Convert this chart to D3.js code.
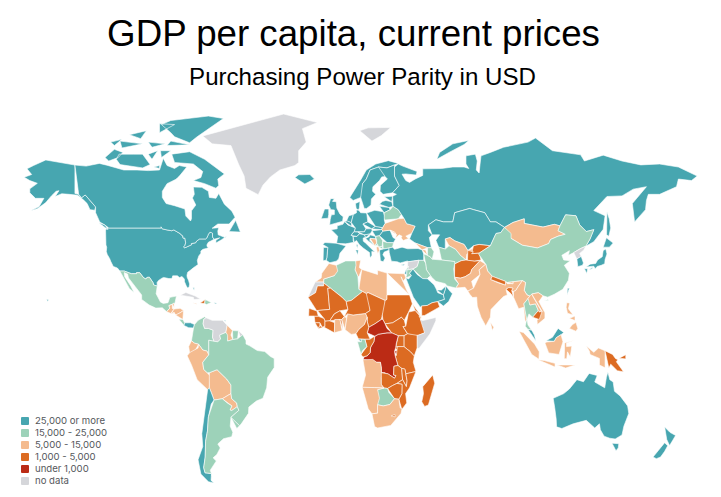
<!DOCTYPE html>
<html>
<head>
<meta charset="utf-8">
<script src="https://d3js.org/d3.v7.min.js"></script>
<style>
  body { margin: 0; background: #fff; }
  text { font-family: "Liberation Sans", Arial, sans-serif; }
  .legend text { font-family: Inter, "Open Sans", sans-serif; font-size: 9.6px; fill: #55585c; }
</style>
</head>
<body>
<svg id="map" width="721" height="497"></svg>
<script>
// GDP bands, in legend order
var bandLabels = ["25,000 or more", "15,000 - 25,000", "5,000 - 15,000", "1,000 - 5,000", "under 1,000", "no data"];
var bandColors = ["#47a6b0", "#9dd2b9", "#f4bb8f", "#dc6b22", "#bb2b15", "#d5d6da"];

// calibration: longitude is linear, latitude is not quite Miller
var lonKnots = [-180, 180];
var lonPixels = [1.6, 678.4];
var latKnots = [83.6, 77.7, 71, 66, 49, 37.3, 25.1, 0, -10.7, -34.8, -39.1, -55.9];
var latPixels = [114, 138, 161, 176, 228, 260, 288, 344, 372, 428, 439, 483];

// each row: name, band index, then rings as "lon lat lon lat ..."
var northAmerica = [
  ["USA", 0, "-124.7 48.4 -123 49 -95.2 49 -95.2 49.4 -94.6 48.7 -92 48.3 -89.5 48 -88.4 48.3 -84.9 46.9 -84.5 46.5 -83.6 46.1 -83.5 45.3 -82.5 45.3 -82.1 43.6 -82.5 42.6 -83.1 42.1 -82.7 41.7 -78.9 42.9 -79.1 43.3 -76.8 43.6 -76.3 44.2 -74.7 45 -71.5 45 -70.8 45.4 -70.3 46.2 -70 46.7 -69.2 47.45 -68.3 47.3 -67.8 47.1 -67.8 45.7 -67 44.9 -68.5 44.3 -70 43.8 -70.7 43 -70.8 42.3 -70 41.8 -71.2 41.5 -72.9 41.2 -74 40.6 -74 39.8 -75.1 38.8 -75.9 37.1 -75.5 35.3 -76.6 34.7 -78 33.9 -79.3 33 -81 32 -81.4 30.7 -81.3 29.8 -80.5 28.3 -80 26.8 -80.3 25.4 -81.1 25.1 -81.8 26.1 -82.7 27.8 -82.8 29 -84 30.1 -85.4 29.7 -86.5 30.4 -89 30.4 -89.4 29.2 -91 29.2 -93.8 29.7 -94.7 29.4 -96.5 28.4 -97.3 27.5 -97.2 25.95 -99.1 26.4 -99.5 27.5 -101.4 29.8 -102.7 29.7 -103.2 29 -104.5 29.6 -106.5 31.75 -108.2 31.8 -108.2 31.33 -111 31.33 -114.8 32.5 -117.1 32.5 -118.4 33.8 -120.6 34.5 -121.9 36.6 -122.5 37.8 -123.8 39.3 -124.3 40.4 -124.1 42 -124.5 42.8 -124 46.2",
    "-141 69.65 -141 60.3 -139 60 -137.5 58.9 -135.5 59.8 -133.5 58.4 -130 55.9 -130.5 54.8 -133 55 -134.5 57 -136.5 58.2 -139.5 59.7 -144 60 -148 60.2 -151.5 59.3 -149.5 61.2 -151 61 -153.5 59.5 -156.5 57.3 -161 55.3 -164.5 54.6 -160 56 -157.5 58.7 -162 58.7 -165 60.5 -165 61.8 -161 63.6 -165 64.5 -168 65.6 -164 66.5 -166.5 68.4 -163 69.5 -156.5 71.3 -152 70.8",
    "-156 20.2 -155 19.7 -155.6 19 -156 19.7", "-160 22.2 -159.4 22.2 -159.5 21.9", "-158.2 21.7 -157.7 21.5 -158 21.3", "-154.5 58 -152.3 58.2 -153.5 57"],
  ["Canada", 0, "-141 69.65 -135 69.3 -128 70.2 -124 69.6 -115 68 -108 68 -102 67.8 -96 68 -94 71.8 -92 69.5 -88 68.5 -85.5 69.5 -81.5 69 -85 66.3 -87 65 -92 63.5 -94.5 61 -94.5 59 -92.5 57 -88 56.3 -82.5 55.2 -82 52.9 -79.5 51.3 -79 52 -79 54.6 -76.7 56.5 -78.5 58.8 -77.5 60 -78 62.4 -73.5 62.3 -70 61 -69.5 59 -66 58.7 -64.5 60.3 -61.5 56.8 -57.5 54.5 -55.8 52.5 -59 50.3 -65 50.3 -68 48.9 -64.5 49.1 -65 47.9 -64.8 46.5 -61 45.5 -60 46.2 -63 44.7 -66 43.5 -66 44.5 -64 45.4 -67 44.9 -67.8 45.7 -67.8 47.1 -68.3 47.3 -69.2 47.45 -70 46.7 -70.3 46.2 -70.8 45.4 -71.5 45 -74.7 45 -76.3 44.2 -76.8 43.6 -79.1 43.3 -78.9 42.9 -82.7 41.7 -83.1 42.1 -82.5 42.6 -82.1 43.6 -82.5 45.3 -83.5 45.3 -83.6 46.1 -84.5 46.5 -84.9 46.9 -88.4 48.3 -89.5 48 -92 48.3 -94.6 48.7 -95.2 49.4 -95.2 49 -123 49 -124.7 49.8 -127.8 51 -130 54 -130 55.9 -133.5 58.4 -135.5 59.8 -137.5 58.9 -139 60 -141 60.3",
    "-59 47.7 -55.5 51.5 -53 47.5 -56 46.9", "-128.3 50.7 -125 50 -123.4 48.4 -125.5 48.8",
    "-61.5 66.7 -65 65 -64.5 62.9 -66 62 -72 63.5 -78 64.5 -74 65.5 -73 67.5 -78 70 -88 70.5 -89.5 73 -80 73.7 -72 71.5 -67 69",
    "-105 73 -110 73 -117.5 73 -119 71.5 -117 69.8 -105 68.7 -101 69.8 -101 71.5", "-125 72 -123 71 -118 72 -115.5 73.5 -120 74.4 -124 74",
    "-62 82.5 -70 83.1 -90 82 -95 81 -90 79 -88 78 -80 76.3 -76 78 -65 81", "-80 75.7 -90 76.8 -92 75.5 -80 74.6",
    "-88 81 -96 81.2 -96 79 -88 78.5", "-105 76 -117 76.8 -116 74.8 -106 74.7", "-97 74 -102 73 -100 71.5 -96 72",
    "-80 64 -87 65 -86 63.5", "-103 79.5 -112 78.5 -106 77.5 -98 78.5", "-90 74 -95.5 74 -95 72 -90 72",
    "-116 77.3 -122 76.5 -120 75.5 -116 76.3", "-93 76 -102 76.5 -100 75 -93 74.8", "-96 69.5 -99 69 -96 68.5 -94.5 69"],
  ["Greenland", 5, "-73 78.2 -68 76 -58 75.5 -54 70 -51 66 -50 62 -43.5 59.9 -41 63 -37 65.7 -32 68 -24 69.5 -22 70.5 -22 74 -18 76.5 -20 80 -12 81.5 -30 83.6 -60 82"],
  ["Mexico", 1, "-117.1 32.5 -114.8 32.5 -111 31.33 -108.2 31.33 -108.2 31.8 -106.5 31.75 -104.5 29.6 -103.2 29 -102.7 29.7 -101.4 29.8 -99.5 27.5 -99.1 26.4 -97.2 25.95 -97.8 22.5 -95.5 18.8 -94 18.2 -91.5 18.5 -90.5 20.9 -87 21.5 -87.8 18.3 -89.1 17.9 -91 17.2 -90.5 16.1 -92.2 14.5 -94.5 16.2 -98 16.1 -101.5 17.5 -105.5 20 -105.5 22 -109 25.8 -112.5 29.5 -113 31.2 -114.8 31.8 -114.5 30 -111.3 26 -109.5 23.1 -112 24.8 -115 28"],
  ["Guatemala", 2, "-92.2 14.5 -90.5 16.1 -91 17.2 -89.2 17.8 -89.2 15.9 -88.2 15.7 -89.3 14.5 -90 13.7 -91.5 13.9"],
  ["Belize", 2, "-89.2 17.8 -88.3 18.4 -88.2 16.3 -89.2 15.9"],
  ["Honduras", 2, "-89.2 14.4 -88.2 15.7 -85 16 -83.2 15 -85 14 -87 13 -88.5 13.9"],
  ["El Salvador", 2, "-90 13.7 -89.3 14.4 -87.8 13.9 -87.8 13.2"],
  ["Nicaragua", 2, "-87.5 13 -85 14 -83.2 15 -83.6 11 -85.7 11.1"],
  ["Costa Rica", 1, "-85.7 11.1 -83.6 11 -82.6 9.5 -83 8.3 -85.7 10"],
  ["Panama", 0, "-83 8.3 -82.6 9.5 -79.5 9.5 -77.4 8.7 -77.9 7.2 -80.5 7.3 -81.5 7.8"],
  ["Cuba", 5, "-84.9 21.9 -82 23.1 -77 21.5 -74.2 20.2 -77.7 19.9 -78 20.9 -82 22.2"],
  ["Haiti", 3, "-74.4 18.4 -72 18.1 -71.7 19.9 -73.3 19.9"],
  ["Dominican Republic", 1, "-71.7 19.9 -72 18.1 -71 17.7 -68.4 18.6 -69.9 19.8"],
  ["Jamaica", 2, "-78.3 18.5 -76.3 18.2 -76.4 17.8 -77.8 17.9"],
  ["Puerto Rico", 0, "-67.2 18.5 -65.6 18.4 -66 17.9 -67.2 18"],
  ["Bahamas", 0, "-78.3 25.2 -77.5 25.2 -77.6 24.1 -78.2 24.3"],
  ["Trinidad", 0, "-61.7 10.8 -60.9 10.8 -61 10.1 -61.8 10.1"]
];

var southAmerica = [
  ["Colombia", 1, "-77.9 7.2 -77.4 8.7 -75.5 10.6 -72 12.2 -71.3 11.8 -72.5 11 -72.8 9 -72 7 -70 7 -67.5 6.2 -67.8 3 -67 1.2 -69.8 1.7 -69.8 -4.2 -70.8 -2.7 -73 -2.3 -75.2 -0.1 -77.5 0.4 -79 1.5 -77.4 4"],
  ["Venezuela", 5, "-71.3 11.8 -72.5 11 -72.8 9 -72 7 -70 7 -67.5 6.2 -67.8 3 -67 1.2 -65 1 -63.5 2.2 -64 4 -60.7 5.2 -60 8.4 -62.5 10.6 -68 10.6 -70 12"],
  ["Guyana", 2, "-60.7 5.2 -60 8.4 -57.2 6 -58 4 -57 2 -59.8 1.3 -59.8 4"],
  ["Suriname", 1, "-57.2 6 -54 5.9 -54.5 2.3 -57 2 -58 4"],
  ["French Guiana", 5, "-54 5.9 -51.7 4.2 -52.8 2.2 -54.5 2.3"],
  ["Ecuador", 2, "-75.2 -0.1 -77.5 0.4 -79 1.5 -80.5 -1 -80 -3.3 -79 -5 -75.5 -1.5"],
  ["Peru", 2, "-80 -3.3 -81.3 -4.5 -79 -8 -76 -14 -70.4 -18.3 -69.5 -17.5 -69 -12.5 -70.6 -11 -72.5 -9.7 -73 -7 -70 -4.3 -69.8 -4.2 -70.8 -2.7 -73 -2.3 -75.2 -0.1 -75.5 -1.5 -79 -5"],
  ["Bolivia", 2, "-69.5 -11 -65.4 -9.8 -60.3 -13.7 -58 -16.3 -58 -20 -62.6 -22.2 -67 -22.8 -68.5 -19.5 -69.5 -17.5 -69 -12.5"],
  ["Paraguay", 2, "-62.6 -22.2 -58 -20 -57.6 -22.2 -55 -24 -54.6 -25.6 -57.6 -27.3 -58.5 -27 -57.5 -25.3 -60 -24"],
  ["Chile", 0, "-70.4 -18.3 -69.5 -17.5 -68.5 -19.5 -67 -22.8 -68.5 -24.5 -70 -30 -70.5 -36 -71.5 -40 -71.7 -46 -72.5 -50 -71.8 -52 -68.4 -52.3 -68.6 -54.9 -67 -55.9 -70 -55.4 -74 -52.5 -75.5 -47 -73 -42 -73.5 -37 -71.5 -30"],
  ["Argentina", 1, "-67 -22.8 -62.6 -22.2 -60 -24 -57.5 -25.3 -58.5 -27 -57.6 -27.3 -54.6 -25.6 -53.8 -27.2 -58 -30.2 -58.4 -34 -57 -36.5 -57.6 -38.2 -62 -39 -65 -41 -63.7 -42.5 -65.5 -45 -67.5 -46.3 -65.8 -47.5 -69 -51 -68.4 -52.3 -71.8 -52 -72.5 -50 -71.7 -46 -71.5 -40 -70.5 -36 -70 -30 -68.5 -24.5",
    "-68.6 -52.7 -65.2 -54.7 -68.6 -54.9"],
  ["Uruguay", 1, "-58 -30.2 -53.4 -33.8 -54.9 -35 -58.4 -34"],
  ["Brazil", 1, "-51.7 4.2 -50 1.5 -50 0 -48 -0.7 -44 -2.5 -40 -2.9 -37 -4.8 -35 -5.5 -35 -9 -38.5 -13 -39 -17.5 -41 -22 -44.5 -23.2 -48.5 -25.8 -48.7 -28.5 -52.5 -33 -53.4 -33.8 -58 -30.2 -53.8 -27.2 -54.6 -25.6 -55 -24 -57.6 -22.2 -58 -20 -58 -16.3 -60.3 -13.7 -65.4 -9.8 -69.5 -11 -70.6 -11 -72.5 -9.7 -73 -7 -70 -4.3 -69.8 -4.2 -69.8 1.7 -67 1.2 -65 1 -63.5 2.2 -64 4 -60.7 5.2 -59.8 4 -59.8 1.3 -57 2 -54.5 2.3 -52.8 2.2"],
  ["Falklands", 5, "-61 -51.8 -58 -51.5 -59 -52.3"]
];

var europe = [
  ["Iceland", 0, "-24 65.5 -22 66.4 -16 66.5 -13.6 65 -18.7 63.4 -22.7 63.9"],
  ["UK", 0, "-5.5 50 1.4 51.2 1.7 52.7 0 53.5 -1.7 55.5 -2 57.6 -4 57.7 -3 58.6 -5 58.6 -6 56.5 -4.9 55 -3 54.9 -3 53.4 -4.6 53.3 -5.2 51.8 -3 51.3"],
  ["Ireland", 0, "-10 52 -6.3 52.2 -6 53.5 -6 55.2 -8.2 55.2 -10 54"],
  ["Spain", 0, "-9.2 43 -8 43.7 -1.8 43.4 3.2 42.4 0 39.8 -0.7 37.7 -2 36.8 -5.4 36.1 -7.4 37.2 -7 38.2 -6.5 41.9 -8.8 41.9"],
  ["Portugal", 0, "-8.8 41.9 -6.5 41.9 -7 38.2 -7.4 37.2 -9 37 -9.5 38.7"],
  ["France", 0, "-1.8 43.4 -1.2 46 -4.7 48.4 -1.5 48.7 -1.5 49.7 1.5 50.2 2.5 51.1 4.2 50 6.2 49.5 8.2 49 7.6 47.6 6.9 47.3 6 46.3 7 45.9 7 44.2 7.5 43.8 3 43.2 3.2 42.4", "8.6 42.9 9.5 43 9.3 41.5 8.8 41.6"],
  ["Belgium", 0, "2.5 51.1 4 51.4 6 50.8 6.2 49.5 4.2 50"],
  ["Netherlands", 0, "3.5 51.4 4.7 53 7.1 53.4 6 50.8 4 51.4"],
  ["Germany", 0, "6 50.8 7.1 53.4 8.8 54 8.7 54.9 10 54.8 11 54 14.2 53.9 14.8 51 12.2 50.3 13.8 48.7 13 47.6 7.6 47.6 8.2 49 6.2 49.5"],
  ["Denmark", 0, "8.6 55.4 8.2 57 10.6 57.7 10.3 55.5 9.7 54.9 8.7 54.9", "11 55.7 12.5 56 12 54.8"],
  ["Switzerland", 0, "6 46.3 6.9 47.3 7.6 47.6 9.6 47.5 10.4 46.9 9 45.9 7 45.9"],
  ["Austria", 0, "9.6 47.5 13 47.6 13.8 48.7 16.9 48.7 17.1 48 16 46.8 13 46.5 10.4 46.9"],
  ["Italy", 0, "7 45.9 9 45.9 10.4 46.9 13 46.5 13.7 45.6 12.3 45.3 12.4 44.2 13.6 43.5 16 41.9 18.5 40.2 16.9 40.4 17 39 16 38 15.7 40 12.3 41.7 10.2 43 8.8 44.4 7.5 43.8 7 44.2", "12.5 38 15.6 38.2 15 36.7", "8.3 41 9.7 41 9.5 39.1 8.5 39"],
  ["Poland", 0, "14.2 53.9 18.5 54.8 23 54.3 24 52.5 23.6 51.6 24 50.5 22.7 49.1 19 49.4 14.8 51"],
  ["Czechia", 0, "12.2 50.3 14.8 51 18.8 49.5 16.9 48.7 13.8 48.7"],
  ["Slovakia", 0, "16.9 48.7 18.8 49.5 22.5 49.1 22.1 48.4 17.1 48"],
  ["Hungary", 0, "17.1 48 22.1 48.4 22.9 47.9 21 46.2 18.9 45.9 16 46.8"],
  ["Slovenia", 0, "13.7 45.5 13 46.5 16 46.8 15.5 45.8"],
  ["Croatia", 0, "13.6 45.2 15.5 45.8 16 46.5 18.9 45.9 19 45 16 45.2 15.8 44.5 18.5 42.5 15.2 44.2 14.5 45.2"],
  ["Bosnia", 2, "16 45.2 19 45 19.5 43.6 18.5 42.5 15.8 44.5"],
  ["Serbia", 1, "18.9 45.9 21 46.2 22.7 44.3 22.4 42.3 20.6 42 19.5 43.3 19.5 44.5 19 45"],
  ["Montenegro", 1, "18.5 42.5 19.5 43.3 20.3 42.8 19.3 41.9"],
  ["Albania", 2, "19.3 41.9 20.5 42.3 21 40.8 20 39.7 19.4 40.4"],
  ["Macedonia", 1, "20.6 42 22.4 42.3 23 41.3 21 40.9"],
  ["Bulgaria", 1, "22.7 44.2 25 43.7 28.5 43.6 27.9 42 26.3 41.7 23 41.3 22.4 42.3"],
  ["Romania", 0, "21 46.2 22.9 47.9 26.6 48.2 28.2 45.5 29.6 45 28.5 43.7 25 43.7 22.7 44.3"],
  ["Greece", 0, "21 40.9 23 41.3 26.3 41.7 26 40.9 23.5 40.2 22.8 39.2 24 38 23 36.5 21.5 37 20 39.7", "23.6 35.5 26.2 35.2 24.7 35"],
  ["Norway", 0, "5.2 59 7 58 11 59 12.5 61 12 63.5 14 65 16 68 20.5 69 25 68.7 29 69.7 31 70.2 25.7 71.1 19 70 14 68 11 64.7 5 62"],
  ["Sweden", 0, "11 59 12.9 55.4 14.2 55.4 16.5 56.5 16.7 58.5 19 60 17.3 61 17.5 62.5 21 64.5 22.2 65.7 24 65.8 23.5 67.8 20.5 69 16 68 14 65 12 63.5 12.5 61"],
  ["Finland", 0, "24 65.8 25.2 65 21.5 63 21.3 61 22.9 60 28 60.5 31.5 62.9 29 66 29 69 29 69.7 25 68.7 20.5 69 23.5 67.8"],
  ["Estonia", 0, "23.5 59.2 28 59.4 27.5 57.6 24.4 58"],
  ["Latvia", 0, "21 56.8 22.5 57.7 24.4 58 27.5 57.6 28.2 56.1 26 55.7 21 56.1"],
  ["Lithuania", 0, "21 56.1 26 55.7 26.7 55 23.5 54 21 55.2"],
  ["Belarus", 1, "23.5 54 26.7 55 28.2 56.1 31 55 32.7 53.4 31 52 23.6 51.6 24 52.5"],
  ["Ukraine", 2, "24 50.5 22.7 49.1 22.1 48.4 22.9 47.9 26.6 48.2 29 47.5 30 46.5 29.6 45.3 31.5 46.5 33 46 32.5 45.4 33.6 44.4 36.5 45.2 35 46 38.2 47.1 40 49.6 38 50 35.5 50.4 34 52.2 31 52 23.6 51.6"],
  ["Moldova", 2, "26.6 48.2 29 47.5 30 46.5 28.2 45.5"],
  ["Cyprus", 0, "32.3 35.1 34.5 35.6 33.9 34.9 32.8 34.6"]
];

var russiaAsia = [
  ["Russia", 0, "28 59.4 30 60 28 60.5 31.5 62.9 29 66 29 69 31 70 33 69.4 41 67.5 40.5 66.3 35 66.7 33 66.6 35 64.5 37 63.9 40 65 44 66.2 44 68.4 54 68.5 60 69 66 69 68.5 68.5 67 70 67 72.5 72 73 73 71 72.5 68 74 67 74.5 70 75 72.5 80 73.5 87 75 100 76.5 104 77.7 113 74 128 72.8 130 71 140 72.7 150 71 160 69.7 170 70 180 69 190 66 187 64.5 180 65 179 62.5 170 60 164 60 163 58 162.5 55 156.7 51 155.5 57 163 62.5 156 61.7 150 59.5 142 59.3 135 54.7 141 53 140 48.5 135 44 130.7 42.3 131.3 43 133 45 135 48.4 131 47.7 127.5 50 125.5 53 120 53.3 117 49.7 114 50.2 108 49.3 98 50.5 98 52 92 50.8 87.5 49.2 83 51 80 51 77 54 71 55 69 55.4 61 54 60 51 55 51 51 51.7 47 50 47 48 49 46.5 47.5 45.5 48.6 41.8 46.6 41.8 40 43.5 37 45 38.2 47.1 40 49.6 38 50 35.5 50.4 34 52.2 32.7 53.4 31 55 28.2 56.1 27.5 57.6",
    "142 54.3 143.2 52 144 49 143 46 141.8 46.5 142 50", "51.5 71.5 53 73.5 60 76 68.5 77 66 75.8 58 73.5 56 71", "95 79.5 105 79 100 81", "137 75.5 150 75 142 73.8", "178 71.5 182 71.2 180 70.8", "45 80.6 65 81 50 80"],
  ["Svalbard", 5, "10.5 79.5 15 80.2 27 80.3 22 78.3 17 76.8 13.5 78"],
  ["Kazakhstan", 0, "47 50 51 51.7 55 51 60 51 61 54 69 55.4 71 55 77 54 80 51 83 51 87.5 49.2 85.5 47.3 83 47 80 42.5 74 43 71 42.5 68 40.8 66 43 61 44.3 58.5 45.5 56 45 56 41.3 52.5 42 51 44.5 53 46.5 49 46.5 47 48"],
  ["Uzbekistan", 2, "56 45 58.5 45.5 61 44.3 66 43 68 40.8 71 41.5 70.5 40.7 67.5 39.5 67 37.3 64 39 61.5 41.2 58 42.5 56 41.3"],
  ["Turkmenistan", 1, "52.5 42 56 41.3 58 42.5 61.5 41.2 64 39 67 37.3 64.5 37 61 35.6 61 36.6 54 37.3 53.5 40"],
  ["Kyrgyzstan", 3, "71 42.5 74 43 80 42.5 74 39.8 70 39.6 71 40.3"],
  ["Tajikistan", 3, "68 40.8 71 40.3 70 39.6 74 39.8 75 37.3 71.5 36.8 67.8 37.1 67.5 39.5"],
  ["Afghanistan", 3, "61 35.6 64.5 37 67 37.3 71.5 36.8 74.5 37 71 34 70 33 69.5 31.5 66.5 30 64 29.4 60.9 29.8 60.5 33.5"],
  ["Pakistan", 2, "60.9 29.8 64 29.4 66.5 30 69.5 31.5 70 33 71 34 74.5 37 77.5 35.5 74 33 74.5 31 70 28 71 25 68 23.7 66.5 25.4 61.6 25.1 63 27 61 29"],
  ["Iran", 1, "44.5 39.5 46.5 39 48 38.5 49 37.6 54 37.3 61 36.6 61 35.6 60.5 33.5 60.9 29.8 61 29 63 27 61.6 25.1 57 26 56 27 51 28 48.5 30 46 33 45.5 36 44.5 37.5"],
  ["Iraq", 1, "38.8 33.4 41 34.5 42 37.2 44.5 37.2 45.5 36 46 33 48.5 30 47.7 30.1 46.5 29.1 44 29.2 41 31"],
  ["Turkey", 0, "26.2 40 26 41.7 28 42 29 41.2 33 42 36 41.4 41.5 41.5 43.7 41 44.5 39.5 44.5 37.2 42 37.2 36 36.5 36 36.9 32 36 30.5 36.5 27.3 36.8 26.3 39"],
  ["Georgia", 2, "40 43.5 46.6 41.8 43.7 41 41.5 41.5"],
  ["Armenia", 2, "43.7 41 45.5 41 46.5 39 44.5 39.5"],
  ["Azerbaijan", 1, "46.6 41.8 48.6 41.8 50 40.3 49 37.6 48 38.5 46.5 39 45.5 41"],
  ["Syria", 5, "36 36.5 42 37.2 41 34.5 38.8 33.4 36 33 35.9 34.6"],
  ["Lebanon", 1, "35.1 33.1 36 33 36.5 34.6 35.9 34.6"],
  ["Israel", 0, "34.3 31.3 35.1 33.1 35.6 33 35.5 31 35 29.5"],
  ["Jordan", 1, "35 29.5 35.5 31 35.6 33 36 33 38.8 33.4 37 31.5 38 30.5 36.5 29"],
  ["Saudi Arabia", 0, "35 29.5 36.5 29 38 30.5 37 31.5 38.8 33.4 41 31 44 29.2 46.5 29.1 48 28 50 26.5 51.2 24.6 52 23 55 22 55.6 20 52 19 49 18.5 46.5 17.3 43.4 17 42.7 16.5 39 21 35 28"],
  ["Yemen", 3, "43.4 17 46.5 17.3 49 18.5 52 19 53 16.6 45 12.8 43.5 12.7 42.7 15.5"],
  ["Oman", 0, "52 19 55.6 20 55 22 56 24.5 56.3 26 58.6 23.6 59.8 22.5 57.8 19 55 17 53 16.6"],
  ["UAE", 0, "51.5 24.2 54 24.2 56.3 26 56 24.5 55 22 52 23"],
  ["Qatar", 0, "51 26 51.6 25 50.9 24.8"],
  ["Kuwait", 0, "46.5 29.1 47.7 30.1 48.4 28.6"],
  ["Mongolia", 2, "87.5 49.2 92 50.8 98 52 98 50.5 108 49.3 114 50.2 117 49.7 116 48 119.8 46.7 116 46 112 44.8 111 43.3 105 41.7 97 42.7 91 45.2 91 47"],
  ["China", 1, "73.7 39.5 74 39.8 80 42.5 83 47 85.5 47.3 87.5 49.2 91 47 91 45.2 97 42.7 105 41.7 111 43.3 112 44.8 116 46 119.8 46.7 116 48 117 49.7 120 53.3 125.5 53 127.5 50 131 47.7 135 48.4 133 45 131.3 43 130.7 42.3 128 41.5 124.3 40 121.5 39 122 40.7 118 39 119 37.3 122.5 37 119.3 35 122 31.5 121.5 28.5 118.5 24.5 114 22.3 110.5 21 108 21.6 105.5 23 102 22.4 101.7 21.2 99.5 22 98 24 98.7 27.5 97 28.3 92 27.8 89 27.5 88 28 81 30.2 78.5 32.5 77.5 35.5 75 37.3",
    "108.7 19.3 110.5 20 111 19.6 109.5 18.2"],
  ["Taiwan", 0, "121 25 122 25 120.8 22 120.1 23"],
  ["North Korea", 5, "124.3 40 128 41.5 130.7 42.3 129.7 41 127.5 39.7 128.3 38.6 126 37.7 125 38"],
  ["South Korea", 0, "126 37.7 128.3 38.6 129.5 36 129 35 126.5 34.4 126.5 36"],
  ["Japan", 0, "131 34.3 133 35.5 136 35.8 137 37.3 139.5 38.5 140 40.8 141.4 41.3 142 39.5 141 37.5 140.8 35.7 139 35 136.8 34.5 135.7 33.5 135 34.6 132.5 34", "140 42 141.7 45.4 145.3 43.5 143.3 42 141 42.5", "130 33.5 131.7 33.5 131.3 31.4 130.2 31.3", "132.5 33.2 134.6 34.2 134 33.4 133 32.8"],
  ["India", 2, "74.5 31 74 33 77.5 35.5 78.5 32.5 81 30.2 80.2 28.8 84 27.4 88 26.4 88 28 89 27 92 27 92 27.8 97 28.3 95 26 93.5 24 92.3 23.5 91.3 24 92 25 89.8 25.3 88.3 24.5 89 22 87 21.3 85 19.6 80.3 15.5 80 12 77.5 8.1 75 12 73 17 72.7 21 70.5 20.8 69 22.3 68 23.7 71 25 70 28"],
  ["Nepal", 3, "80.2 28.8 81 30.2 88 28 88 26.4 84 27.4"],
  ["Bhutan", 2, "89 27.5 92 27.8 92 26.9 89 26.8"],
  ["Bangladesh", 3, "88.3 24.5 89.8 25.3 92 25 91.3 24 92.3 21 91 22.5 89 22"],
  ["Sri Lanka", 2, "80 9.7 81.8 7.5 81 6 80 6.2"],
  ["Myanmar", 2, "92.3 21 92.3 23.5 93.5 24 95 26 97 28.3 98.7 27.5 98 24 99.5 22 101 21.5 100 20.4 97.8 18 98.5 15 99.5 11 98.5 10 97.7 16.5 95 15.8 94.3 18.5"],
  ["Thailand", 1, "97.8 18 100 20.4 101 19.5 101 17.5 104 18 105.5 15 102.5 12 100.5 13.5 99.5 11 100 8.5 102 6.2 100 6.5 98.5 8 99.3 11 98.5 15"],
  ["Laos", 2, "100 20.4 101 21.5 102 22.4 103 20.7 107 15 106 14.3 105.5 15 104 18 101 17.5 101 19.5"],
  ["Vietnam", 2, "102 22.4 105.5 23 108 21.6 105.8 19 109 14 109 11.5 105 8.7 104.8 10.5 106 13 107.5 14.7 103 20.7"],
  ["Cambodia", 3, "102.5 12 105.5 15 106 14.3 107.5 14.7 106 11 104.8 10.5"],
  ["Malaysia", 0, "100 6.5 102 6.2 103.4 4 104.2 1.4 101.3 2.8", "109.6 1.5 113 3 116 7 119 5.2 117.6 4.2 115 2.8 114 1.2 110 0.9"],
  ["Indonesia", 2, "95.3 5.6 97.5 5.2 103.5 0 106 -3 105.8 -5.8 102 -4 98.5 1.5", "105.3 -6 108.6 -6.3 114.4 -7.4 114.4 -8.8 106.5 -7.8", "109 0.5 110 0.9 114 1.2 115 2.8 117.6 4.2 118.6 1 116.5 -4 111 -3.4 109.2 -1", "119.5 0.5 125 1.8 120.5 0.4 120.5 -1 123.3 -0.8 122.5 -5 121 -3 120.6 -5.6 119.3 -5.6 118.8 -2.5", "115.5 -8 119 -8 125 -8 120 -9.2 116 -9.2", "123.6 -10.2 127.2 -8.2 125 -8.8", "128 -2.8 130.8 -3 128 -3.6", "127.3 1.8 128.8 0 128 -0.9", "131 -0.8 135 -3.2 137.5 -1.5 141 -2.6 141 -9.1 138 -8 138 -5.5 133 -4 132.7 -2.8 134 -2"],
  ["Philippines", 2, "120.3 16.5 120.6 18.5 122.2 18.4 121.5 15.8 124 13 121 13.8 120 14.8", "122 7 123.5 8.6 125.5 9.7 126.5 7 125.5 5.7 124 6.5", "122 11.5 125 12.5 125 10.5 123 9.5", "117.2 8.4 119.5 11.3 119.3 10"]
];

var africa = [
  ["Egypt", 2, "25 31.6 34.3 31.3 35 29.5 33.5 28 32.5 30 35.6 23.9 37 22 25 22"],
  ["Libya", 2, "11.6 33.2 15 32.3 20 31 20 32.8 25 31.6 25 20 24 19.5 15 23 14 22.6 10 24.5 10 30"],
  ["Tunisia", 2, "8.3 36.9 11 37.2 10.3 34 11.6 33.2 10 30 9.5 30.2 8 33 8.5 35"],
  ["Algeria", 1, "-2 35 3 36.9 8.3 36.9 8.5 35 8 33 9.5 30.2 10 24.5 12 23.5 6 19.5 3.3 19 1 21 -5 25 -8.7 27.3 -8.7 29 -3 30.5 -1.2 32.5"],
  ["Morocco", 2, "-5.9 35.8 -2 35 -1.2 32.5 -3 30.5 -8.7 29 -8.7 27.7 -13.2 27.7 -10 29.5 -9.7 31.5 -6.8 34"],
  ["Western Sahara", 5, "-13.2 27.7 -8.7 27.7 -8.7 26 -12 26 -13 23 -17 21 -16 23.7"],
  ["Mauritania", 3, "-17 21 -13 23 -12 26 -8.7 26 -8.7 27.3 -5 25 -6.5 25 -5.5 15.5 -12 15 -12.3 14.8 -16.5 16"],
  ["Mali", 3, "-12 15 -5.5 15.5 -6.5 25 -5 25 1 21 3.3 19 4.2 15.5 0 14.9 -3 13.5 -5.5 10.4 -8 10.2 -8.5 11.4 -11.5 12.4"],
  ["Senegal", 3, "-16.5 16 -12.3 14.8 -11.5 12.4 -16.7 12.4 -17.5 14.7"],
  ["Guinea-Bissau", 3, "-16.7 12.4 -13.7 12.4 -15 11"],
  ["Guinea", 3, "-13.7 12.4 -11.5 12.4 -8.5 11.4 -8 10.2 -8 8 -9.4 7.5 -10.7 9.5 -13.3 9.5 -15 11"],
  ["Sierra Leone", 3, "-13.3 9.5 -10.7 9.5 -10.7 8.3 -11.5 7 -13.3 8.2"],
  ["Liberia", 3, "-11.5 7 -10.7 8.3 -9.4 7.5 -8.4 7.5 -7.5 4.4"],
  ["Ivory Coast", 3, "-8.4 7.5 -8 8 -8 10.2 -5.5 10.4 -2.8 9.5 -3 5 -7.5 4.4"],
  ["Burkina Faso", 3, "-5.5 10.4 -3 13.5 0 14.9 2.3 12.3 0.9 11 -2.8 11"],
  ["Ghana", 2, "-2.8 11 0 11 1.1 6 -3 5 -2.8 9.5"],
  ["Togo", 3, "0 11 0.9 11 1.6 6.2 1.1 6"],
  ["Benin", 2, "0.9 11 2.4 12.2 3.6 11.7 2.7 6.4 1.6 6.2"],
  ["Nigeria", 2, "2.7 6.4 3.6 11.7 4 13.5 7 13 10 13.3 13.6 13.7 14.5 12 13 8.7 10 6.5 8.5 4.6 6 4.3 4.5 6.4"],
  ["Niger", 3, "4.2 15.5 3.3 19 6 19.5 12 23.5 14 22.6 15 23 15.5 20 16 15 13.6 13.7 10 13.3 7 13 4 13.5 2.4 12.2 2.3 12.3 0 14.9"],
  ["Chad", 3, "14 22.6 15 23 24 19.5 24 15.7 22.5 13 22 11 18.5 9 15.3 7.5 14.5 10 14.5 12 13.6 13.7 16 15 15.5 20"],
  ["Sudan", 3, "24 19.5 25 20 25 22 37 22 38.5 18 36.5 14.3 34.2 10.6 32.7 12 28 9.5 24 9 22.8 11 22.5 13 24 15.7"],
  ["South Sudan", 3, "24 9 28 9.5 32.7 12 34.2 10.6 35 8 33.5 7.8 35.9 4.6 34 3.7 31 3.7 27.5 5 25 7"],
  ["Eritrea", 3, "38.5 18 43 12.7 40 15 36.5 14.3"],
  ["Ethiopia", 3, "36.5 14.3 40 15 42.5 12.5 43 11.5 42.8 10.9 48 8 45 5 42 4 39.7 3.5 36 4.6 33.5 7.8 35 8 34.2 10.6"],
  ["Djibouti", 2, "42 12.6 43.3 12.2 43 11 42.4 11.2"],
  ["Somalia", 5, "42.8 10.9 44 10.5 51 11.9 51 10.4 47.8 4.5 42 -1.7 41 -1.5 41 3.9 42 4 45 5 48 8"],
  ["Kenya", 3, "41 3.9 41 -1.5 39.5 -4.6 37.5 -3 34 -1 34 3.7 35.9 4.6 39.7 3.5"],
  ["Uganda", 3, "31 3.7 34 3.7 34 -1 30.5 -1 29.6 -1.4 30 0.5"],
  ["Rwanda", 3, "29 -1.4 30.5 -1 30.8 -2.4 29 -2.8"],
  ["Burundi", 4, "29 -2.8 30.8 -2.4 30 -4.4 29.3 -4.4"],
  ["Tanzania", 3, "30.5 -1 34 -1 37.5 -3 39.5 -4.6 39 -7 40.4 -10.5 35 -11.5 34.5 -9.6 32.8 -9.3 30.8 -8.2 29.3 -4.4 30 -4.4 30.8 -2.4"],
  ["DR Congo", 4, "12.2 -6 13 -4.8 14.5 -4.5 16 -3.3 16.3 -1.2 18 1 18.5 3.5 20.5 4.4 25 5 27.5 5 31 3.7 30 0.5 29.6 -1.4 29 -2.8 29.3 -4.4 30.8 -8.2 28.7 -8.5 28.5 -12 29.8 -12.2 29 -13.4 25.5 -11.5 22 -11 22 -9.3 21.5 -7 19.5 -7 17.5 -5.9"],
  ["Central African Republic", 4, "14.5 5 15.3 7.5 18.5 9 22 11 22.8 11 24 9 25 7 27.5 5 25 5 20.5 4.4 18.5 3.5 16 2.2"],
  ["Congo", 3, "11.2 -4 12.2 -5 13 -4.8 14.5 -4.5 16 -3.3 16.3 -1.2 18 1 18.5 3.5 16 2.2 13.2 2.2 14.3 -1 12 -2.5"],
  ["Gabon", 1, "9.3 1 11.3 1 11.3 2.2 13.2 2.2 14.3 -1 12 -2.5 11.2 -4 8.8 -1"],
  ["Equatorial Guinea", 0, "9.5 2.2 11.3 2.2 11.3 1 9.5 1"],
  ["Cameroon", 3, "8.5 4.6 10 6.5 13 8.7 14.5 12 14.5 10 15.3 7.5 14.5 5 16 2.2 13.2 2.2 9.8 2.3 9.5 4"],
  ["Angola", 2, "12.2 -6 17.5 -5.9 19.5 -7 21.5 -7 22 -9.3 22 -11 24 -11 22 -13 22 -16 23.4 -17.6 18.4 -17.4 11.8 -17.3 13.6 -12 13.5 -9"],
  ["Zambia", 3, "22 -11 25.5 -11.5 29 -13.4 29.8 -12.2 28.5 -12 28.7 -8.5 30.8 -8.2 32.8 -9.3 33 -11 33.3 -14 30.3 -15.6 28 -16.5 25.3 -17.8 23.4 -17.6 22 -16 22 -13 24 -11"],
  ["Malawi", 3, "32.8 -9.3 34.5 -9.6 35 -11.5 35.7 -14.5 35.3 -17 33.3 -14 33 -11"],
  ["Mozambique", 3, "40.4 -10.5 35 -11.5 35.7 -14.5 35.3 -17 33.3 -14 30.3 -15.6 33 -16 32.9 -20 31.3 -22.4 32.9 -26.8 35.5 -24 34.9 -20 37 -17.5 40.7 -14.8"],
  ["Zimbabwe", 3, "25.3 -17.8 28 -16.5 30.3 -15.6 33 -16 32.9 -20 31.3 -22.4 29 -22.2 26 -19.5"],
  ["Botswana", 1, "20 -18.3 23.4 -17.6 25.3 -17.8 26 -19.5 29 -22.2 26.5 -24.7 23 -25.3 20 -24.8 21 -22"],
  ["Namibia", 2, "11.8 -17.3 18.4 -17.4 23.4 -17.6 20 -18.3 21 -22 20 -24.8 20 -28.4 17 -28.7 15 -26.5 14.4 -22"],
  ["South Africa", 2, "17 -28.7 20 -28.4 20 -24.8 23 -25.3 26.5 -24.7 29 -22.2 31.3 -22.4 32 -26 32.9 -26.8 32.5 -28.5 27 -33.7 25 -34 20 -34.8 18.4 -34.2 18 -32"],
  ["Lesotho", 3, "27.2 -29.6 29.2 -29 29.3 -30 28 -30.6"],
  ["Madagascar", 3, "49.3 -12 50.4 -15.5 47 -24.9 45 -25.5 43.5 -23.5 44.4 -20 44 -17 46.5 -15.5"]
];

var oceania = [
  ["Australia", 0, "113.4 -22 114.2 -26 115 -31 115.2 -34.3 118 -35 124 -33 131 -31.5 135.5 -34.8 138 -33 138.5 -35.5 140.5 -38 143.5 -38.8 146.4 -39.1 150 -37.5 151 -34 153.6 -28.6 153 -25.3 149 -21 146 -19 145.3 -15 143.5 -14 142.5 -10.7 141.7 -13 140.8 -17.5 135.5 -15 136.8 -12.2 132.5 -11.3 129.5 -14.9 126 -14 122 -18 119 -20 114 -21.8",
    "144.7 -40.7 148.3 -40.9 148 -42.5 146.8 -43.6 145.5 -42.8"],
  ["New Zealand", 0, "172.7 -34.4 175.5 -36.5 178.5 -37.7 177 -39.6 175.3 -41.6 173.8 -39.3 174.7 -37", "172.7 -40.5 174.3 -41.7 172.7 -43.8 170.5 -46 168.3 -46.6 166.5 -46 170 -43"],
  ["Papua New Guinea", 3, "141 -2.6 145 -4 146.5 -5.5 147.8 -6 147 -6.8 150.8 -10.6 147.5 -10.2 144 -7.7 143 -9.2 141 -9.1", "148.5 -5.4 152 -4.1 152 -5.7 149 -6.4", "150.8 -2.6 153 -4.5 152.8 -4.7"],
  ["Solomon Islands", 2, "157 -7 160 -8.5 159.8 -8.8", "159.8 -9.3 161 -9.6 160 -9.9"],
  ["Vanuatu", 2, "166.8 -15.2 167.3 -15.6 167 -15.8"],
  ["New Caledonia", 5, "164 -20.2 167 -22.3 166.4 -22.3"],
  ["Fiji", 2, "177.4 -17.5 178.6 -17.8 177.8 -18.2"]
];

var bandColor = d3.scaleOrdinal().domain(d3.range(bandLabels.length)).range(bandColors);
var xScale = d3.scaleLinear().domain(lonKnots).range(lonPixels);
var yScale = d3.scaleLinear().domain(latKnots).range(latPixels);

function parseRing(text) {
  var nums = text.split(" ").map(Number);
  return d3.range(0, nums.length, 2).map(function(i) { return [nums[i], nums[i + 1]]; });
}

function toFeature(row) {
  return {
    type: "Feature",
    properties: { name: row[0], band: row[1] },
    geometry: { type: "MultiPolygon", coordinates: row.slice(2).map(function(r) { return [parseRing(r)]; }) }
  };
}

// planar transform, so ring winding does not matter
var project = d3.geoTransform({
  point: function(lon, lat) { this.stream.point(xScale(lon), yScale(lat)); }
});
var path = d3.geoPath(project);

var svg = d3.select("#map");
var features = [].concat(northAmerica, southAmerica, europe, russiaAsia, africa, oceania).map(toFeature);

svg.append("g").selectAll("path")
    .data(features)
  .join("path")
    .attr("d", path)
    .attr("fill", function(d) { return bandColor(d.properties.band); })
    .attr("stroke", "#fff")
    .attr("stroke-width", 0.6)
    .attr("stroke-linejoin", "round");

svg.append("text")
    .attr("x", 353.5).attr("y", 46)
    .attr("text-anchor", "middle")
    .attr("font-size", 36.7)
    .attr("fill", "#000")
    .text("GDP per capita, current prices");

svg.append("text")
    .attr("x", 362.5).attr("y", 85)
    .attr("text-anchor", "middle")
    .attr("font-size", 24.1)
    .attr("fill", "#000")
    .text("Purchasing Power Parity in USD");

var legendY = d3.scalePoint().domain(bandLabels).range([421, 481]);
var legend = svg.append("g").attr("class", "legend").selectAll("g")
    .data(bandLabels)
  .join("g")
    .attr("transform", function(d) { return "translate(21," + legendY(d) + ")"; });

legend.append("rect")
    .attr("y", -4).attr("width", 8).attr("height", 8).attr("rx", 1)
    .attr("fill", function(d, i) { return bandColors[i]; });

legend.append("text")
    .attr("x", 14).attr("y", 3.2)
    .text(function(d) { return d; });
</script>
</body>
</html>
